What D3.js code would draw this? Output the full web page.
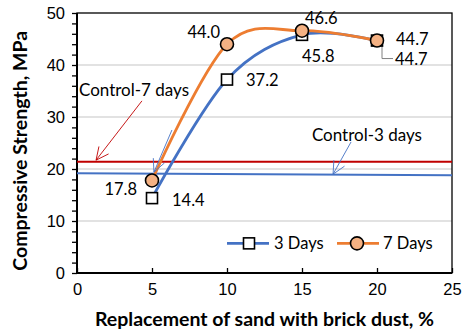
<!DOCTYPE html>
<html lang="en">
<head>
  <meta charset="UTF-8" />
  <title>Compressive strength vs brick dust</title>
  <style>
    body { margin: 0; background: #fff; }
    svg { display: block; font-family: Lato, "Liberation Sans", Arial, sans-serif; }
    .tick text { font-size: 16.5px; fill: #000; }
    .axis-title { font-size: 19.5px; font-weight: bold; fill: #000; }
    .dlabel { font-size: 16.5px; fill: #000; }
    .note { font-size: 17px; fill: #000; }
  </style>
</head>
<body>
  <svg width="465" height="333"></svg>
  <script src="https://d3js.org/d3.v7.min.js"></script>
  <script>
    // replacement level (%)
    const replacement = [5, 10, 15, 20];
    const days3 = [14.4, 37.2, 45.8, 44.7];
    const days7 = [17.8, 44.0, 46.6, 44.7];

    // control mixes, drawn across the whole x range
    const control3 = [[0, 19.2], [25, 18.8]];
    const control7 = [[0, 21.4], [25, 21.4]];

    const xTicks = [0, 5, 10, 15, 20, 25];
    const yMajor = [0, 10, 20, 30, 40, 50];

    // label offsets in px (dx, dy, anchor)
    const off3 = [[20, 2, "start"], [19, 1, "start"], [0, 21, "start"], [18, 19, "start"]];
    const off7 = [[-15, 9, "end"], [-7, -12, "end"], [3, -12, "start"], [19, -1, "start"]];

    const svg = d3.select("svg");
    const margin = { top: 13, right: 13, bottom: 60, left: 77 };
    const W = 465, H = 333;

    const x = d3.scaleLinear().domain([0, 25]).range([margin.left, W - margin.right]);
    const y = d3.scaleLinear().domain([0, 50]).range([H - margin.bottom, margin.top]);

    const blue = "#4472C4", orange = "#ED7D31", peach = "#F4B183", red = "#C00000";

    // grid
    svg.append("g").selectAll("line")
      .data(yMajor.filter(v => v > 0 && v < 50))
      .join("line")
      .attr("x1", x(0)).attr("x2", x(25))
      .attr("y1", d => y(d)).attr("y2", d => y(d))
      .attr("stroke", "#d9d9d9").attr("stroke-width", 1.5);

    // axes
    const yAxis = d3.axisLeft(y)
      .tickValues(d3.range(0, 51, 2))
      .tickSize(5).tickPadding(7)
      .tickFormat(d => d % 10 === 0 ? d : "");
    const gy = svg.append("g").attr("transform", `translate(${x(0)},0)`).call(yAxis);

    const xAxis = d3.axisBottom(x)
      .tickValues(xTicks)
      .tickSize(-5).tickPadding(8);
    const gx = svg.append("g").attr("transform", `translate(0,${y(0)})`).call(xAxis);

    [gx, gy].forEach(g => {
      g.select(".domain").remove();
      g.selectAll(".tick line").attr("stroke", "#000").attr("stroke-width", 1.3);
      g.selectAll("text").attr("font-family", null);
    });
    gx.selectAll(".tick text").attr("dy", "0.85em");

    // plot border
    svg.append("rect")
      .attr("x", x(0)).attr("y", y(50))
      .attr("width", x(25) - x(0)).attr("height", y(0) - y(50))
      .attr("fill", "none").attr("stroke", "#000").attr("stroke-width", 1.3);
    svg.append("path")
      .attr("d", `M${x(0)},${y(50)}V${y(0)}H${x(25)}`)
      .attr("fill", "none").attr("stroke", "#000").attr("stroke-width", 2);

    // control lines
    const straight = d3.line().x(d => x(d[0])).y(d => y(d[1]));
    svg.append("path").attr("d", straight(control7))
      .attr("stroke", red).attr("stroke-width", 2).attr("fill", "none");
    svg.append("path").attr("d", straight(control3))
      .attr("stroke", blue).attr("stroke-width", 2).attr("fill", "none");

    // smoothed series
    const smooth = d3.line()
      .x((d, i) => x(replacement[i])).y(d => y(d))
      .curve(d3.curveCardinal.tension(0));
    svg.append("path").attr("d", smooth(days3))
      .attr("stroke", blue).attr("stroke-width", 2.8).attr("fill", "none");
    svg.append("path").attr("d", smooth(days7))
      .attr("stroke", orange).attr("stroke-width", 2.8).attr("fill", "none");

    // annotation arrows
    const arrows = [
      { from: [4.33, 33.1], to: [1.27, 21.7], color: red },
      { from: [6.33, 27.5], to: [5.13, 19.4], color: blue },
      { from: [18.27, 25.2], to: [17.07, 19.0], color: blue }
    ];
    arrows.forEach(a => {
      const x1 = x(a.from[0]), y1 = y(a.from[1]), x2 = x(a.to[0]), y2 = y(a.to[1]);
      const ang = Math.atan2(y2 - y1, x2 - x1);
      const L = 14, spread = 0.45;
      const w1 = [x2 - L * Math.cos(ang - spread), y2 - L * Math.sin(ang - spread)];
      const w2 = [x2 - L * Math.cos(ang + spread), y2 - L * Math.sin(ang + spread)];
      svg.append("path")
        .attr("d", `M${x1},${y1}L${x2},${y2}M${w1}L${x2},${y2}L${w2}`)
        .attr("stroke", a.color).attr("stroke-width", 0.9).attr("fill", "none");
    });

    svg.append("text").attr("class", "note")
      .attr("x", x(3.8)).attr("y", y(35.2)).attr("dy", "0.35em")
      .attr("text-anchor", "middle").text("Control-7 days");
    svg.append("text").attr("class", "note")
      .attr("x", x(19.33)).attr("y", y(26.5)).attr("dy", "0.35em")
      .attr("text-anchor", "middle").text("Control-3 days");

    // leader line for the 3-day label at 20 %
    svg.append("path")
      .attr("d", `M${x(20) + 5},${y(44.7) + 6}V${y(44.7) + 18}H${x(20) + 16}`)
      .attr("stroke", "#808080").attr("stroke-width", 1).attr("fill", "none");

    // markers
    const sq = 11;
    svg.append("g").selectAll("rect")
      .data(days3).join("rect")
      .attr("x", (d, i) => x(replacement[i]) - sq / 2)
      .attr("y", d => y(d) - sq / 2)
      .attr("width", sq).attr("height", sq)
      .attr("fill", "#fff").attr("stroke", "#000").attr("stroke-width", 1.6);
    svg.append("g").selectAll("circle")
      .data(days7).join("circle")
      .attr("cx", (d, i) => x(replacement[i]))
      .attr("cy", d => y(d))
      .attr("r", 6.5)
      .attr("fill", peach).attr("stroke", "#000").attr("stroke-width", 1.6);

    // data labels
    const labels = (vals, offs) => svg.append("g").selectAll("text")
      .data(vals).join("text").attr("class", "dlabel")
      .attr("x", (d, i) => x(replacement[i]) + offs[i][0])
      .attr("y", (d, i) => y(d) + offs[i][1])
      .attr("dy", "0.35em")
      .attr("text-anchor", (d, i) => offs[i][2])
      .text(d => d.toFixed(1));
    labels(days3, off3);
    labels(days7, off7);

    // legend
    const leg = svg.append("g").attr("transform", `translate(227,${y(5.7)})`);
    leg.append("line").attr("x1", 0).attr("x2", 42)
      .attr("stroke", blue).attr("stroke-width", 2.8);
    leg.append("rect").attr("x", 22 - sq / 2).attr("y", -sq / 2)
      .attr("width", sq).attr("height", sq)
      .attr("fill", "#fff").attr("stroke", "#000").attr("stroke-width", 1.6);
    leg.append("text").attr("class", "dlabel").attr("x", 47).attr("dy", "0.35em").text("3 Days");
    leg.append("line").attr("x1", 110).attr("x2", 152)
      .attr("stroke", orange).attr("stroke-width", 2.8);
    leg.append("circle").attr("cx", 130).attr("r", 6.5)
      .attr("fill", peach).attr("stroke", "#000").attr("stroke-width", 1.6);
    leg.append("text").attr("class", "dlabel").attr("x", 156).attr("dy", "0.35em").text("7 Days");

    // axis titles
    svg.append("text").attr("class", "axis-title")
      .attr("x", x(12.5)).attr("y", 326)
      .attr("text-anchor", "middle")
      .text("Replacement of sand with brick dust, %");
    svg.append("text").attr("class", "axis-title")
      .attr("transform", `translate(27,${y(23.5)}) rotate(-90)`)
      .attr("text-anchor", "middle")
      .text("Compressive Strength, MPa");
  </script>
</body>
</html>
